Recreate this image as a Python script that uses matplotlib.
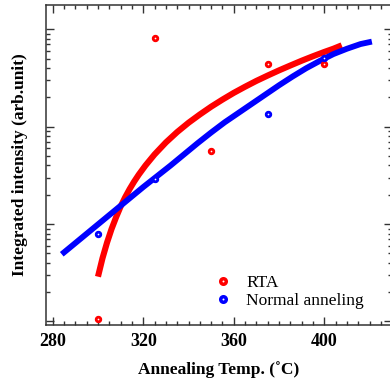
import matplotlib
matplotlib.use("Agg")
import matplotlib.pyplot as plt
from matplotlib.lines import Line2D
from matplotlib.ticker import LogLocator, MultipleLocator, NullFormatter

# Measured data
rta_temp = [300, 325, 350, 375, 400]
rta_int = [1.06, 809, 56.7, 437, 437]
normal_temp = [300, 325, 375, 400]
normal_int = [7.91, 29.0, 134, 511]

# Fit curves (values are log10 of intensity)
rta_fit_temp = [300, 302, 304, 306, 308, 310, 312, 314, 316, 318, 321, 325, 330, 335, 340,
                345, 350, 355, 360, 365, 370, 375, 380, 385, 390, 395, 400, 404, 407.7]
rta_fit_log = [0.46, 0.65, 0.81, 0.95, 1.07, 1.18, 1.275, 1.36, 1.437, 1.507, 1.602, 1.715,
               1.838, 1.945, 2.04, 2.125, 2.205, 2.278, 2.347, 2.41, 2.47, 2.525, 2.578,
               2.628, 2.677, 2.723, 2.767, 2.80, 2.835]
normal_fit_temp = [284, 290, 296, 302, 308, 314, 320, 326, 332, 338, 344, 350, 356, 362,
                   368, 374, 380, 386, 392, 398, 404, 410, 416, 421]
normal_fit_log = [0.69, 0.805, 0.92, 1.035, 1.15, 1.265, 1.38, 1.49, 1.60, 1.715, 1.83, 1.94,
                  2.045, 2.14, 2.235, 2.33, 2.425, 2.515, 2.60, 2.675, 2.745, 2.80, 2.848, 2.873]

xticks = [280, 320, 360, 400]

plt.rcParams['font.family'] = ['Liberation Serif', 'DejaVu Serif']

fig = plt.figure(figsize=(3.9, 3.83), dpi=100)
ax = fig.add_axes([45.7/390, (383-325)/383, (392-45.7)/390, (325-5)/383])

ax.plot(rta_fit_temp, [10**v for v in rta_fit_log], color='#ff0000', lw=4.4,
        solid_capstyle='butt', solid_joinstyle='round', zorder=2)
ax.plot(normal_fit_temp, [10**v for v in normal_fit_log], color='#0000ff', lw=4.2,
        solid_capstyle='butt', solid_joinstyle='round', zorder=2)

ax.plot(rta_temp, rta_int, 'o', ms=3.3, mfc='white', mec='#ff0000', mew=2.0, ls='none', zorder=3)
ax.plot(normal_temp, normal_int, 'o', ms=3.3, mfc='white', mec='#0000ff', mew=2.0, ls='none', zorder=3)

ax.set_yscale('log')
ax.set_xlim(276.9, 429.9)
ax.set_ylim(0.92, 1774)
ax.set_xticks(xticks)
ax.xaxis.set_minor_locator(MultipleLocator(5))
ax.yaxis.set_major_locator(LogLocator(base=10))
ax.yaxis.set_minor_locator(LogLocator(base=10, subs=[2, 3, 4, 5, 6, 7, 8, 9]))
ax.yaxis.set_major_formatter(NullFormatter())
ax.yaxis.set_minor_formatter(NullFormatter())

ax.tick_params(which='both', direction='in', top=True, right=True, color='#333333', width=1.0)
ax.tick_params(which='major', length=6)
ax.tick_params(which='minor', length=3)
ax.tick_params(axis='x', labelsize=13, pad=6)
for lab in ax.get_xticklabels():
    lab.set_fontweight('bold')
for sp in ax.spines.values():
    sp.set_linewidth(1.1)
    sp.set_color('#333333')

ax.set_xlabel('Annealing Temp. (˚C)', fontsize=12.5, fontweight='bold', labelpad=8)
ax.set_ylabel('Integrated intensity (arb.unit)', fontsize=12.5, fontweight='bold', labelpad=9)

handles = [
    Line2D([], [], ls='none', marker='o', ms=4.0, mfc='white', mec='#ff0000', mew=2.5),
    Line2D([], [], ls='none', marker='o', ms=4.0, mfc='white', mec='#0000ff', mew=2.5),
]
ax.legend(handles, ['RTA', 'Normal anneling'], loc='upper left', bbox_to_anchor=(0.468, 0.177),
          frameon=False, fontsize=12.5, handletextpad=0.82, labelspacing=0.1,
          handlelength=1.0, borderaxespad=0.0)

fig.savefig('out.png', dpi=100)
